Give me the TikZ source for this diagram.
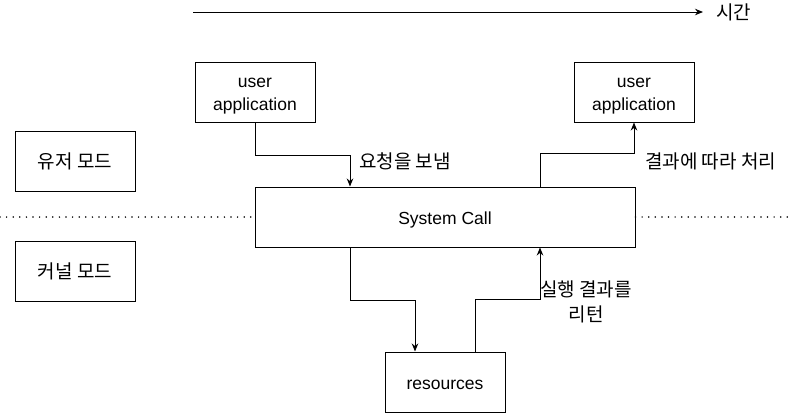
\documentclass[tikz,border=0pt]{standalone}
\usepackage{fontspec}
\setmainfont{Liberation Sans}
\newfontfamily\kr{Noto Sans CJK KR}
\usetikzlibrary{arrows.meta}
\newcommand\upstrut{\rule{0pt}{21pt}}
\newcommand\lowstrut{\rule[-7pt]{0pt}{7pt}}

\begin{document}
\begin{tikzpicture}[x=1pt,y=-1pt,
    frame/.style ={draw, line width=1pt, minimum width=120pt, minimum height=60pt,
                 inner sep=0pt, align=center},
    box/.style ={frame, font=\fontsize{17.5}{22.4}\selectfont},
    mode/.style ={frame, font=\fontsize{19}{21}\selectfont\kr},
    label/.style ={inner sep=0pt, align=center, font=\fontsize{19}{25}\selectfont\kr},
    flow/.style ={line width=1pt, -{Stealth[length=8pt,width=6.5pt]}},
    border/.style ={line width=1.7pt, line cap=round, dash pattern=on 0pt off 6.6pt}]
   \useasboundingbox (0,0) rectangle (793,413);

   \node[box] (app1) at (255,92)  {\upstrut user\\application\lowstrut};
   \node[box] (app2) at (634,92)  {\upstrut user\\application\lowstrut};
   \node[mode] (user) at (75,161)  {유저 모드};
   \node[mode] (kernel) at (75,271)  {커널 모드};
   \node[box, minimum width=380pt] (syscall) at (445,217)  {\upstrut System Call\lowstrut};
   \node[box] (res) at (445,382)  {\upstrut resources\lowstrut};

   \coordinate (t0) at (193,12);
   \coordinate (t1) at (703,12);
   \node[label, anchor=west] (time) at (716,12)  {시간};
   \node[label, anchor=west] (send) at (359,161)  {요청을 보냄};
   \node[label, anchor=west] (handle) at (645,161)  {결과에 따라 처리};
   \node[label] (return) at (586,302)  {실행 결과를\\리턴};

   \coordinate (l0) at (0,217);
   \coordinate (r0) at (793,217);

   \draw[flow] (t0) to  (t1);
   \draw[border] (l0) to  (syscall.west);
   \draw[border] (syscall.east) to  (r0);
   \draw[flow] (app1.south) -- ++(0,33) -| ([xshift=-95pt]syscall.north);
   \draw[flow] ([xshift=95pt]syscall.north) -- ++(0,-33) -| (app2.south);
   \draw[flow] ([xshift=-95pt]syscall.south) -- ++(0,53) -| ([xshift=-30pt]res.north);
   \draw[flow] ([xshift=30pt]res.north) -- ++(0,-52) -| ([xshift=95pt]syscall.south);
 \end{tikzpicture}
\end{document}
